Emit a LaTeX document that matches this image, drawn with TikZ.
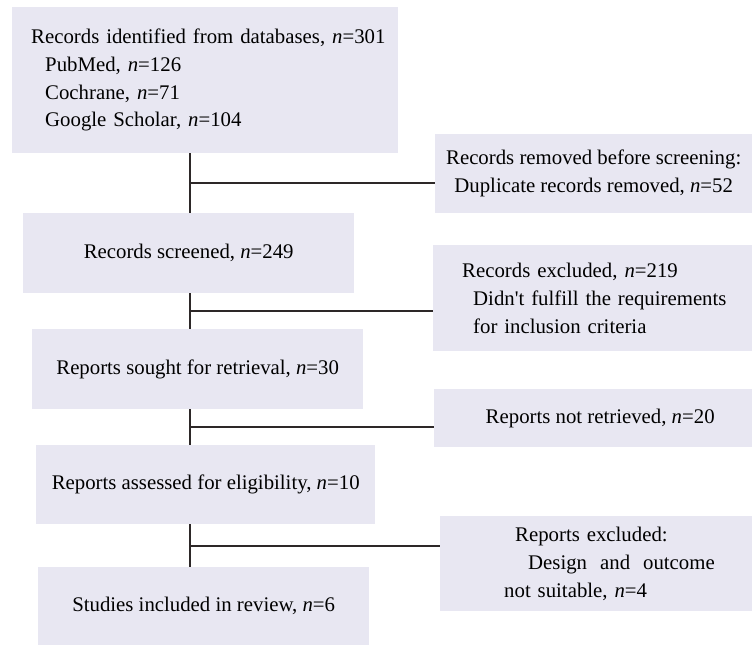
\documentclass[tikz,border=0pt]{standalone}
\usepackage{fontspec}
\setmainfont{Liberation Serif}
\definecolor{boxfill}{RGB}{232,231,242}
\definecolor{linecol}{RGB}{45,40,40}

\begin{document}
\begin{tikzpicture}[x=1pt, y=-1pt,
  box/.style={fill=boxfill, inner sep=0pt, anchor=north west, align=center,
    font=\fontsize{20.8}{27.7}\selectfont},
  link/.style={draw=linecol, line width=1.8pt}]
\useasboundingbox (0, 0) rectangle (752, 645);
\node [box, minimum height=146pt, text width=386pt, align=left] (identified) at (12, 7)
  {\hspace*{19pt}Records identified from databases, \textit{n}=301\\
   \hspace*{33pt}PubMed, \textit{n}=126\\
   \hspace*{33pt}Cochrane, \textit{n}=71\\
   \hspace*{33pt}Google Scholar, \textit{n}=104};
\node [box, minimum width=317pt, minimum height=79pt] (removed) at (435, 134)
  {Records removed before screening:\\ Duplicate records removed, \textit{n}=52};
\node [box, minimum width=331pt, minimum height=80pt] (screened) at (23, 213)
  {Records screened, \textit{n}=249};
\node [box, minimum height=106pt, text width=319pt, align=left] (excluded) at (433, 245)
  {\hspace*{29pt}Records excluded, \textit{n}=219\\
   \hspace*{40pt}Didn\textquotesingle t fulfill the requirements\\
   \hspace*{40pt}for inclusion criteria};
\node [box, minimum width=331pt, minimum height=80pt] (sought) at (32, 329)
  {Reports sought for retrieval, \textit{n}=30};
\node [box, minimum width=318pt, minimum height=58pt] (notretrieved) at (434, 389)
  {\hspace*{14pt}Reports not retrieved, \textit{n}=20};
\node [box, minimum width=339pt, minimum height=79pt] (assessed) at (36, 445)
  {Reports assessed for eligibility, \textit{n}=10};
\node [box, minimum height=95pt, text width=312pt, align=left] (reportsexcluded) at (440, 516)
  {\hspace*{75pt}Reports excluded:\\
   \hspace*{88pt}Design\hspace{13pt}and\hspace{13pt}outcome\\
   \hspace*{64pt}not suitable, \textit{n}=4};
\node [box, minimum width=331pt, minimum height=78pt] (studies) at (38, 567)
  {Studies included in review, \textit{n}=6};
\coordinate (spine) at (190, 0);
\foreach \a/\b/\c in {identified/screened/removed, screened/sought/excluded,
    sought/assessed/notretrieved, assessed/studies/reportsexcluded} {
  \draw [link] (\a.south -| spine) -- coordinate (\a-mid) (\b.north -| spine);
  \draw [link] (\a-mid) -- (\c.west |- \a-mid);
}
\end{tikzpicture}
\end{document}
